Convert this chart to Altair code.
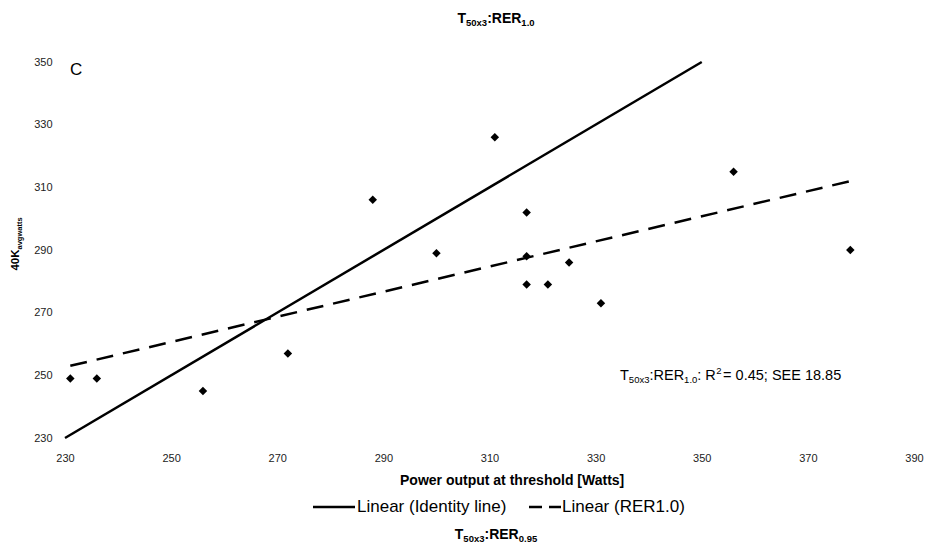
import altair as alt
import pandas as pd

# ---------------- data ----------------
threshold_watts = [231, 236, 256, 272, 288, 300, 311, 317, 317, 317, 321, 325, 331, 356, 378]
avg_watts_40k = [249, 249, 245, 257, 306, 289, 326, 302, 288, 279, 279, 286, 273, 315, 290]
identity_x = [230, 350]
identity_y = [230, 350]
x_ticks = [230, 250, 270, 290, 310, 330, 350, 370, 390]
y_ticks = [230, 250, 270, 290, 310, 330, 350]
legend_labels = ["Linear (Identity line)", "Linear (RER1.0)"]

# ---------------- layout ----------------
FONT = "Liberation Sans"
INK = "#000000"
PL, PT, W, H = 65, 62, 849, 376
TOTAL_W, TOTAL_H = 925, 544

REG = {' ': 278, '.': 278, ':': 278, ';': 278, '=': 584, '(': 333, ')': 333, 'T': 611, 'R': 722,
       'E': 667, 'S': 667, 'C': 722, 'L': 556, 'I': 278, 'x': 500, 'i': 222, 'n': 556, 'e': 556,
       'a': 556, 'r': 333, 'd': 556, 't': 278, 'y': 500, 'l': 222}
BOLD = {' ': 278, '.': 278, ':': 333, 'T': 611, 'R': 722, 'E': 667, 'K': 722, 'x': 556, 'a': 556,
        'v': 556, 'g': 611, 'w': 778, 't': 333, 's': 556, 'P': 667, 'o': 611, 'e': 556, 'r': 389,
        'u': 611, 'p': 611, 'h': 611, 'l': 278, 'd': 611, '[': 333, 'W': 944, ']': 333}


def text_width(text, size, bold):
    table = BOLD if bold else REG
    return sum(table.get(c, 556) for c in text) * size / 1000.0


one = pd.DataFrame({"k": [0]})


def text_mark(text, gx, gy, size, bold=False, angle=0, align="left", baseline="alphabetic"):
    props = dict(text=text, fontSize=size, fontWeight="bold" if bold else "normal", font=FONT,
                 align=align, baseline=baseline, color=INK)
    if angle:
        props["angle"] = angle
    return alt.Chart(one).mark_text(**props).encode(x=alt.value(gx - PL), y=alt.value(gy - PT))


def run_width(parts):
    return sum(text_width(t, s, b) + extra for t, s, b, _, extra in parts)


def text_run(parts, start_x, base_y, angle=0):
    layers = []
    offset = 0.0
    for t, s, b, shift, extra in parts:
        if angle == 0:
            gx, gy = start_x + offset, base_y + shift
        else:
            gx, gy = start_x + shift, base_y - offset
        layers.append(text_mark(t, gx, gy, s, b, angle))
        offset += text_width(t, s, b) + extra
    return layers


# ---------------- data layers ----------------
pts = pd.DataFrame({"x": threshold_watts, "y": avg_watts_40k})
ident = pd.DataFrame({"x": identity_x, "y": identity_y})

xscale = alt.Scale(domain=[230, 390], nice=False, zero=False)
yscale = alt.Scale(domain=[230, 350], nice=False, zero=False)

xaxis = alt.Axis(values=x_ticks, grid=False, domain=False, ticks=False, labelPadding=14,
                 labelFlush=False, labelFontSize=11, labelFont=FONT, labelColor="#222222", title=None)
yaxis = alt.Axis(values=y_ticks, grid=False, domain=False, ticks=False, labelPadding=13,
                 labelFlush=False, labelFontSize=11, labelFont=FONT, labelColor="#222222", title=None)

points = alt.Chart(pts).mark_point(shape="diamond", filled=True, size=72, color=INK, opacity=1).encode(
    x=alt.X("x:Q", scale=xscale, axis=xaxis),
    y=alt.Y("y:Q", scale=yscale, axis=yaxis),
)

identity_line = alt.Chart(ident).mark_line(color=INK, strokeWidth=2.5).encode(
    x=alt.X("x:Q", scale=xscale),
    y=alt.Y("y:Q", scale=yscale),
)

trend = alt.Chart(pts).transform_regression("x", "y").mark_line(
    color=INK, strokeWidth=2.5, strokeDash=[17, 10]
).encode(
    x=alt.X("x:Q", scale=xscale),
    y=alt.Y("y:Q", scale=yscale),
)

# ---------------- texts ----------------
layers = [identity_line, trend, points]

# top title
top_parts = [("T", 14, True, 0, 0), ("50x3", 9.5, True, 3, 0), (":RER", 14, True, 0, 0), ("1.0", 9.5, True, 3, 0)]
tw = run_width(top_parts)
layers += text_run(top_parts, 496 - tw / 2, 23)

# bottom title
bot_parts = [("T", 14, True, 0, 0), ("50x3", 9.5, True, 3, 0), (":RER", 14, True, 0, 0), ("0.95", 9.5, True, 3, 0)]
bw = run_width(bot_parts)
layers += text_run(bot_parts, 496 - bw / 2, 539)

# panel letter
layers.append(text_mark("C", 70, 75, 17))

# annotation
ann_parts = [("T", 14.5, False, 0, 0), ("50x3", 9.5, False, 3, 0), (":RER", 14.5, False, 0, 0),
             ("1.0", 9.5, False, 3, 0), (": R", 14.5, False, 0, 0.5), ("2", 9.5, False, -6, 1.5),
             (" = 0.45; SEE 18.85", 14.5, False, 0, 0)]
layers += text_run(ann_parts, 620, 380)

# y title (rotated)
y_parts = [("40K", 11.5, True, 0, 0), ("avgwatts", 7.5, True, 3, 0)]
yw = run_width(y_parts)
layers += text_run(y_parts, 19, 244 + yw / 2, angle=270)

# x title
layers.append(text_mark("Power output at threshold [Watts]", 400, 481, 14, True,
                        align="left", baseline="middle"))

# legend
LEG_Y = 507
LEG_SIZE = 17
solid_sample = alt.Chart(one).mark_rule(color=INK, strokeWidth=2.5).encode(
    x=alt.value(313 - PL), x2=alt.value(355 - PL), y=alt.value(LEG_Y - PT))
layers.append(solid_sample)
layers.append(text_mark(legend_labels[0], 357, LEG_Y, LEG_SIZE, baseline="middle"))
dashed_sample = alt.Chart(one).mark_rule(color=INK, strokeWidth=2.5, strokeDash=[13, 7]).encode(
    x=alt.value(529 - PL), x2=alt.value(561 - PL), y=alt.value(LEG_Y - PT))
layers.append(dashed_sample)
layers.append(text_mark(legend_labels[1], 562, LEG_Y, LEG_SIZE, baseline="middle"))

chart = alt.layer(*layers).properties(
    width=W, height=H,
    autosize=alt.AutoSizeParams(type="none"),
    padding={"left": PL, "top": PT, "right": TOTAL_W - PL - W, "bottom": TOTAL_H - PT - H},
    background="white",
).configure_view(stroke=None)

chart.save("out.html", embed_options={"renderer": "svg", "actions": False})
